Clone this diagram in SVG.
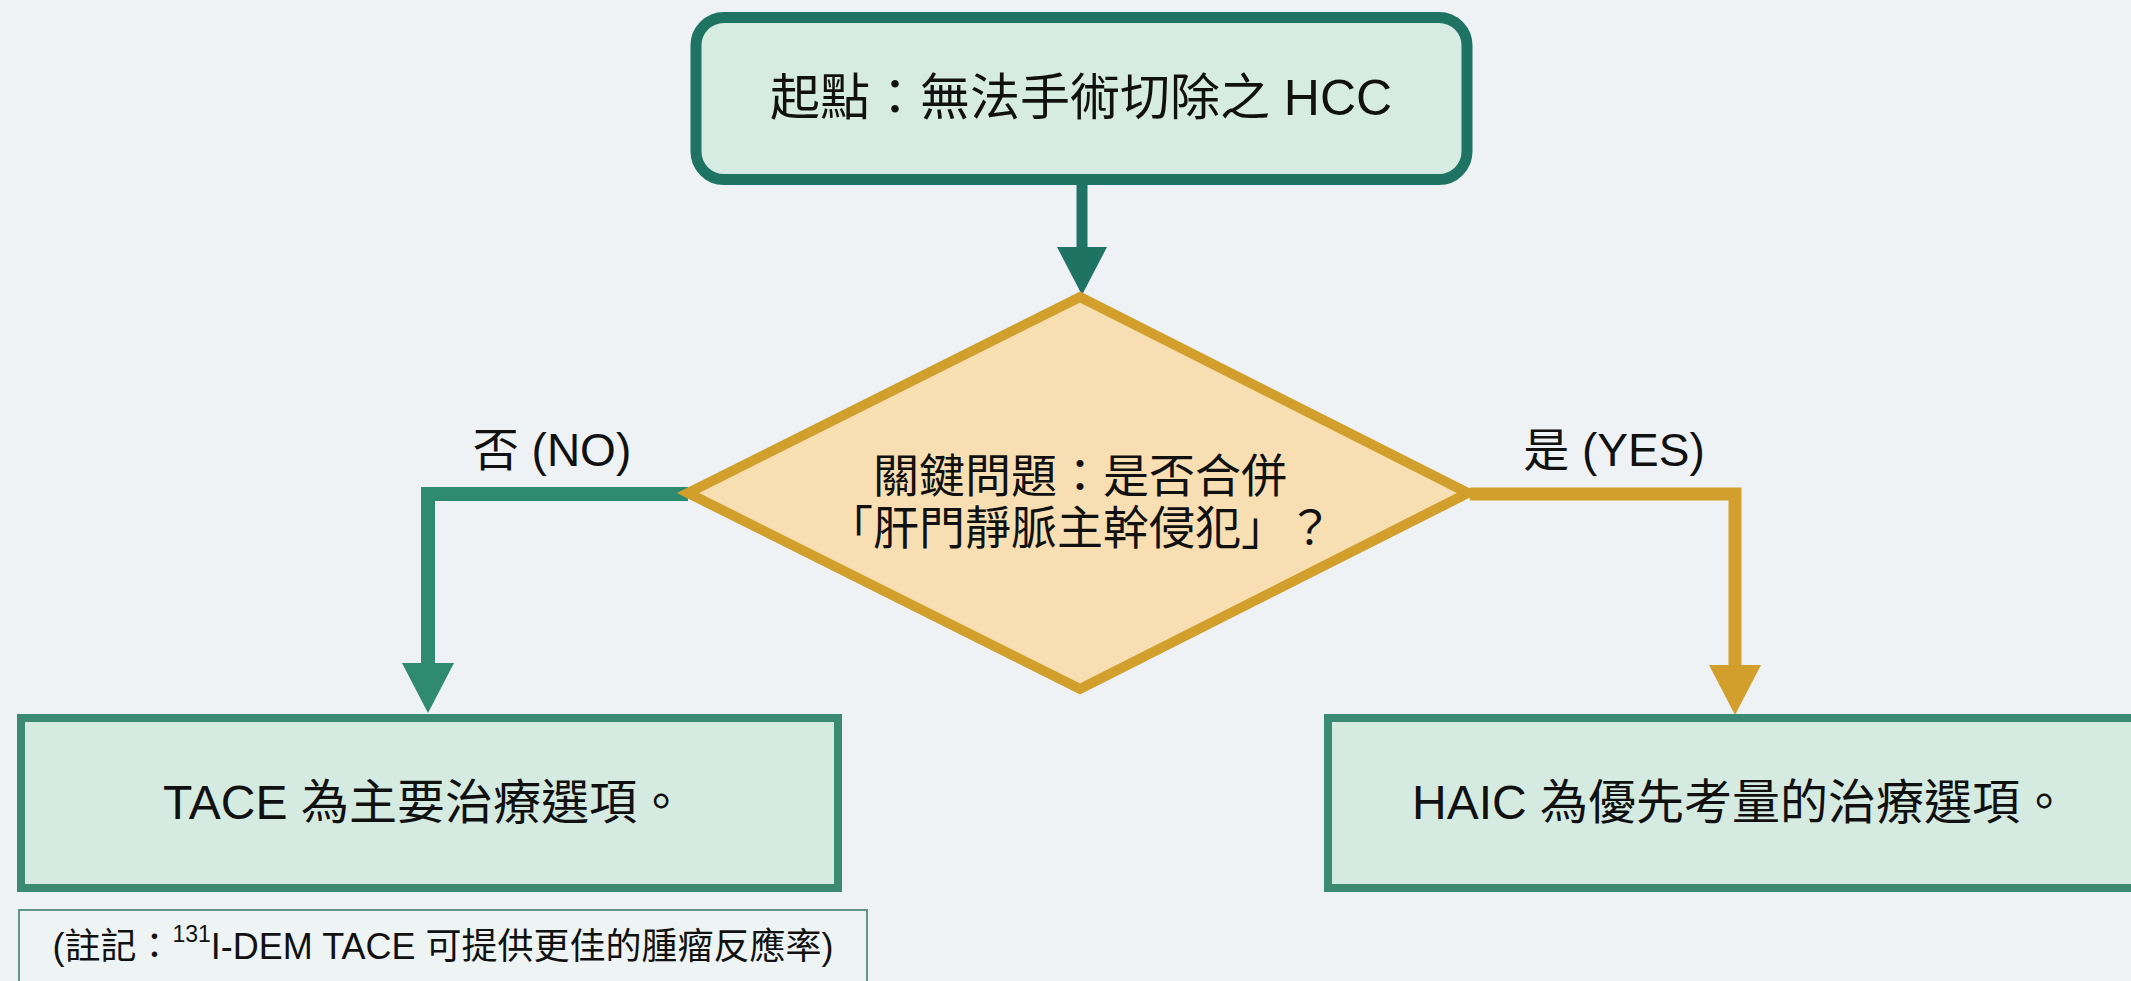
<svg xmlns="http://www.w3.org/2000/svg" width="2131" height="981" viewBox="0 0 2131 981">
<defs>
<style>
.t{font-family:"Liberation Sans","Noto Sans CJK TC",sans-serif;fill:#111;text-anchor:middle;dominant-baseline:central}
</style>
<marker id="ahDark" markerUnits="userSpaceOnUse" markerWidth="50" markerHeight="50" refX="0" refY="25" orient="auto"><path d="M0,0 L48,25 L0,50 z" fill="#1f7363"/></marker>
<marker id="ahGreen" markerUnits="userSpaceOnUse" markerWidth="52" markerHeight="52" refX="0" refY="26" orient="auto"><path d="M0,0 L50,26 L0,52 z" fill="#2f8a70"/></marker>
<marker id="ahGold" markerUnits="userSpaceOnUse" markerWidth="52" markerHeight="52" refX="0" refY="26" orient="auto"><path d="M0,0 L50,26 L0,52 z" fill="#d39f2c"/></marker>
</defs>
<rect x="0" y="0" width="2131" height="981" fill="#eef2f4"/>
<g id="connectors" fill="none" stroke-linejoin="miter">
<path d="M1082,185 L1082,247" stroke="#1f7363" stroke-width="11" marker-end="url(#ahDark)"/>
<path d="M688,494 L428,494 L428,663" stroke="#2f8a70" stroke-width="14" marker-end="url(#ahGreen)"/>
<path d="M1470,494 L1735,494 L1735,665" stroke="#d39f2c" stroke-width="13" marker-end="url(#ahGold)"/>
<text class="t" x="552" y="450" font-size="46" stroke="none">否 (NO)</text>
<text class="t" x="1614" y="450" font-size="46" stroke="none">是 (YES)</text>
</g>
<g id="start">
<rect x="696" y="17.5" width="771" height="162" rx="28" fill="#d6ebe2" stroke="#1f7363" stroke-width="11"/>
<text class="t" x="1081" y="98" font-size="50">起點：無法手術切除之 HCC</text>
</g>
<g id="decision">
<polygon points="1080,297 1468,493 1080,689 688,493" fill="#f7dfb3" stroke="#d39f2c" stroke-width="10" stroke-linejoin="miter"/>
<text class="t" x="1080" y="476" font-size="46">關鍵問題：是否合併</text>
<text class="t" x="1080" y="528" font-size="46">「肝門靜脈主幹侵犯」？</text>
</g>
<g id="tace">
<rect x="21" y="718" width="817" height="170" fill="#d5eae0" stroke="#3b8a72" stroke-width="8"/>
<text class="t" x="424" y="802" font-size="48">TACE 為主要治療選項。</text>
</g>
<g id="note">
<rect x="19" y="910" width="848" height="90" fill="#eef4f3" stroke="#5f9488" stroke-width="2"/>
<text class="t" x="443" y="946" font-size="36">(註記：<tspan font-size="23" dy="-12">131</tspan><tspan dy="12">I-DEM TACE 可提供更佳的腫瘤反應率)</tspan></text>
</g>
<g id="haic">
<rect x="1328" y="718" width="820" height="170" fill="#d5eae0" stroke="#3b8a72" stroke-width="8"/>
<text class="t" x="1740" y="802" font-size="48">HAIC 為優先考量的治療選項。</text>
</g>
</svg>
